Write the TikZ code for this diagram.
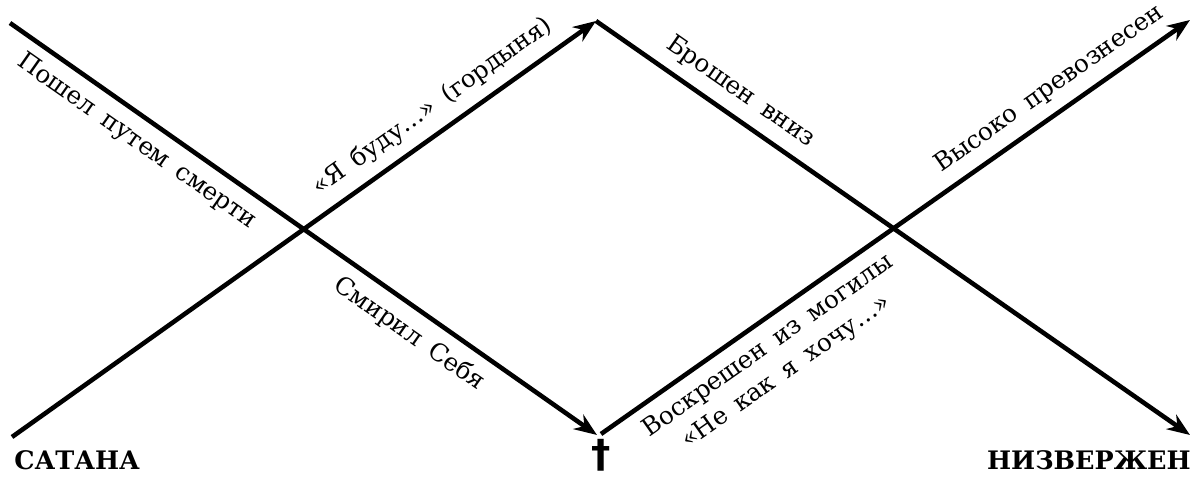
\documentclass[tikz,border=0pt]{standalone}
\usepackage{fontspec}
\setmainfont{DejaVu Serif}
\newfontfamily\lblfont[WordSpace=1.6]{DejaVu Serif}
\newfontfamily\crossfont{DejaVu Sans}
\usetikzlibrary{arrows.meta}

\begin{document}
\begin{tikzpicture}[>={Stealth[length=13pt,width=10pt]}, line width=2.6pt,
    lbl/.style={sloped, font=\lblfont\fontsize{14}{18}\selectfont, inner sep=6pt},
    nm/.style={font=\fontsize{14.5}{17}\selectfont\bfseries, inner sep=0pt}]

    % Рамка
    \useasboundingbox (0,0) rectangle (23.92,9.56);

    % Точки
    \coordinate (s)  at (0.24,0.82);   % сатана
    \coordinate (p)  at (11.92,9.14);  % вершина
    \coordinate (z)  at (23.80,0.86);  % низвержен
    \coordinate (j)  at (0.20,9.10);   % начало пути
    \coordinate (c)  at (11.94,0.86);  % крест
    \coordinate (c2) at (12.02,0.88);
    \coordinate (h)  at (23.80,9.16);  % превознесен

    % Путь сатаны
    \draw[->] (s) -- node[lbl, above, pos=0.745] (pride) {«Я буду…» (гордыня)} (p);
    \draw[->] (p) -- node[lbl, above, pos=0.22] (fall) {Брошен вниз} (z);

    % Путь Христа
    \draw[->] (j) -- node[lbl, below, pos=0.24] (death) {Пошел путем смерти}
        node[lbl, below, pos=0.705] (humble) {Смирил Себя} (c);
    \draw[->] (c2) -- node[lbl, below, pos=0.26, align=center] (risen) {Воскрешен из могилы\\«Не как я хочу…»}
        node[lbl, above, pos=0.785] (exalt) {Высоко превознесен} (h);

    % Подписи
    \node[nm, anchor=west] (satan) at (0.24,0.36) {САТАНА};
    \node[nm, anchor=east] (down) at (23.86,0.36) {НИЗВЕРЖЕН};
    \node[font=\crossfont\bfseries\fontsize{22}{24}\selectfont, inner sep=0pt] (cross) at (12.02,0.46) {†};

\end{tikzpicture}
\end{document}
